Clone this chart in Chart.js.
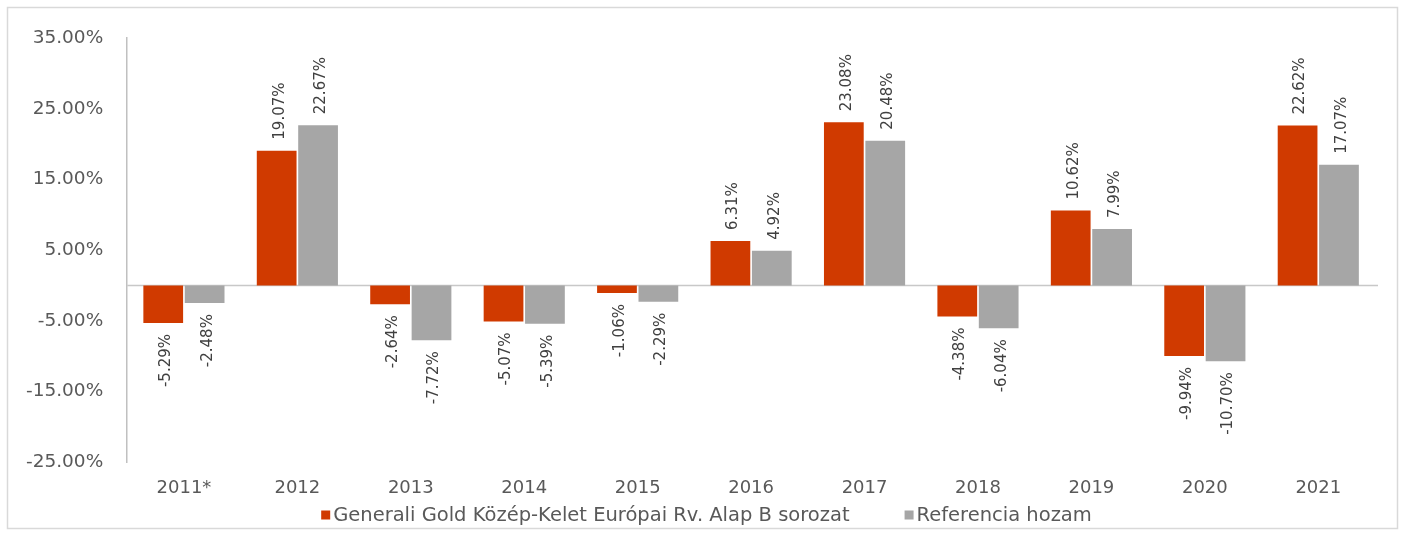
<!DOCTYPE html>
<html>
<head>
<meta charset="utf-8">
<script src="https://cdn.jsdelivr.net/npm/chart.js@4/dist/chart.umd.min.js"></script>
<style>
  html, body { margin: 0; padding: 0; background: #ffffff; }
  #wrap { width: 1405px; height: 538px; position: relative; }
</style>
</head>
<body>
<div id="wrap"><canvas id="c"></canvas></div>
<script>
const categories = ['2011*', '2012', '2013', '2014', '2015', '2016', '2017', '2018', '2019', '2020', '2021'];
const fundLabel = 'Generali Gold Közép-Kelet Európai Rv. Alap B sorozat';
const refLabel = 'Referencia hozam';
const fundValues = [-5.29, 19.07, -2.64, -5.07, -1.06, 6.31, 23.08, -4.38, 10.62, -9.94, 22.62];
const refValues = [-2.48, 22.67, -7.72, -5.39, -2.29, 4.92, 20.48, -6.04, 7.99, -10.70, 17.07];
const yMin = -25;
const yMax = 35;
const yStep = 10;

const FONT = '"DejaVu Sans", "Liberation Sans", Arial, sans-serif';

const framePlugin = {
  id: 'frame',
  beforeDraw(chart) {
    const ctx = chart.ctx;
    ctx.save();
    ctx.fillStyle = '#ffffff';
    ctx.fillRect(0, 0, chart.width, chart.height);
    ctx.strokeStyle = '#d9d9d9';
    ctx.lineWidth = 1.5;
    ctx.strokeRect(7.5, 7.5, chart.width - 15, chart.height - 17);
    ctx.restore();
  }
};

const zeroLinePlugin = {
  id: 'zeroLine',
  beforeDatasetsDraw(chart) {
    const ctx = chart.ctx;
    const y = chart.scales.y.getPixelForValue(0);
    const a = chart.chartArea;
    ctx.save();
    ctx.strokeStyle = '#c8c8c8';
    ctx.lineWidth = 1.5;
    ctx.beginPath();
    ctx.moveTo(a.left, y);
    ctx.lineTo(a.right + 3, y);
    ctx.stroke();
    ctx.restore();
  }
};

const valueLabelPlugin = {
  id: 'valueLabels',
  afterDatasetsDraw(chart) {
    const ctx = chart.ctx;
    ctx.save();
    ctx.font = '15px ' + FONT;
    ctx.fillStyle = '#404040';
    ctx.textBaseline = 'middle';
    chart.data.datasets.forEach((ds, di) => {
      const meta = chart.getDatasetMeta(di);
      meta.data.forEach((el, i) => {
        const v = ds.data[i];
        const txt = v.toFixed(2) + '%';
        ctx.save();
        if (v >= 0) {
          ctx.translate(el.x + 3, el.y - 11);
          ctx.rotate(-Math.PI / 2);
          ctx.textAlign = 'left';
        } else {
          ctx.translate(el.x + 3, el.y + 11);
          ctx.rotate(-Math.PI / 2);
          ctx.textAlign = 'right';
        }
        ctx.fillText(txt, 0, 0);
        ctx.restore();
      });
    });
    ctx.restore();
  }
};

const legendPlugin = {
  id: 'customLegend',
  afterDraw(chart) {
    const ctx = chart.ctx;
    ctx.save();
    ctx.font = '19.5px ' + FONT;
    ctx.textBaseline = 'middle';
    const box = 9, gapBox = 3, gapItem = 55;
    const items = chart.data.datasets.map(ds => ({ text: ds.label, color: ds.backgroundColor }));
    let total = 0;
    items.forEach((it, i) => {
      it.w = ctx.measureText(it.text).width;
      total += box + gapBox + it.w + (i < items.length - 1 ? gapItem : 0);
    });
    let x = chart.width / 2 - total / 2 + 4;
    const y = 515;
    items.forEach(it => {
      ctx.fillStyle = it.color;
      ctx.fillRect(x, y - box / 2, box, box);
      ctx.fillStyle = '#595959';
      ctx.textAlign = 'left';
      ctx.fillText(it.text, x + box + gapBox, y + 1);
      x += box + gapBox + it.w + gapItem;
    });
    ctx.restore();
  }
};

new Chart(document.getElementById('c'), {
  type: 'bar',
  data: {
    labels: categories,
    datasets: [
      { label: fundLabel, data: fundValues, backgroundColor: '#D03A00', categoryPercentage: 0.73, barPercentage: 0.96 },
      { label: refLabel, data: refValues, backgroundColor: '#A6A6A6', categoryPercentage: 0.73, barPercentage: 0.96 }
    ]
  },
  options: {
    responsive: true,
    maintainAspectRatio: false,
    animation: false,
    devicePixelRatio: 1,
    layout: { padding: { left: 2, right: 30, top: 38, bottom: 24 } },
    plugins: {
      legend: { display: false },
      tooltip: { enabled: false }
    },
    scales: {
      x: {
        grid: { display: false, drawTicks: false },
        border: { display: false },
        ticks: { font: { family: FONT, size: 18 }, color: '#595959', padding: 15, maxRotation: 0 }
      },
      y: {
        min: yMin,
        max: yMax,
        grid: { display: false, drawTicks: false },
        border: { display: true, color: '#c0c0c0', width: 1.5 },
        ticks: {
          stepSize: yStep,
          padding: 24,
          font: { family: FONT, size: 18.5 },
          color: '#595959',
          callback: v => v.toFixed(2) + '%'
        }
      }
    }
  },
  plugins: [framePlugin, zeroLinePlugin, valueLabelPlugin, legendPlugin]
});
</script>
</body>
</html>
